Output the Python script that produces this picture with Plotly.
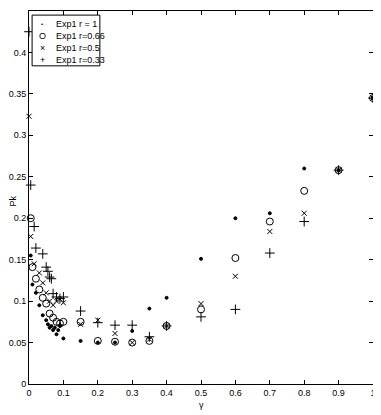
import plotly.graph_objects as go

# gamma values and Pk for each series
x_r1 = [0.005, 0.01, 0.02, 0.03, 0.04, 0.05, 0.055, 0.06, 0.065, 0.07, 0.075, 0.08, 0.085, 0.09,
        0.1, 0.15, 0.2, 0.25, 0.3, 0.35, 0.4, 0.5, 0.6, 0.7, 0.8, 0.9, 1.0]
y_r1 = [0.155, 0.12, 0.11, 0.095, 0.083, 0.077, 0.072, 0.068, 0.07, 0.065, 0.068, 0.06, 0.065, 0.07,
        0.055, 0.052, 0.05, 0.05, 0.064, 0.091, 0.104, 0.151, 0.2, 0.206, 0.26, 0.258, 0.345]

x_r066 = [0.005, 0.01, 0.02, 0.03, 0.04, 0.05, 0.06, 0.07, 0.08, 0.09, 0.1,
          0.15, 0.2, 0.25, 0.3, 0.35, 0.4, 0.5, 0.6, 0.7, 0.8, 0.9, 1.0]
y_r066 = [0.2, 0.141, 0.127, 0.114, 0.104, 0.097, 0.085, 0.08, 0.075, 0.073, 0.075,
          0.075, 0.052, 0.051, 0.05, 0.052, 0.07, 0.09, 0.152, 0.196, 0.233, 0.258, 0.345]

x_r05 = [0.0, 0.005, 0.015, 0.03, 0.04, 0.05, 0.06, 0.07, 0.08, 0.09, 0.1,
         0.15, 0.2, 0.25, 0.3, 0.35, 0.4, 0.5, 0.6, 0.7, 0.8, 0.9, 1.0]
y_r05 = [0.323, 0.178, 0.145, 0.134, 0.122, 0.11, 0.1, 0.095, 0.1, 0.102, 0.098,
         0.072, 0.077, 0.061, 0.05, 0.054, 0.07, 0.097, 0.13, 0.184, 0.206, 0.258, 0.345]

x_r033 = [0.0, 0.005, 0.015, 0.02, 0.04, 0.05, 0.055, 0.06, 0.065, 0.07, 0.08, 0.09, 0.1,
          0.15, 0.2, 0.25, 0.3, 0.35, 0.4, 0.5, 0.6, 0.7, 0.8, 0.9, 1.0]
y_r033 = [0.425, 0.24, 0.19, 0.164, 0.157, 0.141, 0.136, 0.129, 0.127, 0.109, 0.105, 0.103, 0.105,
          0.088, 0.074, 0.071, 0.071, 0.057, 0.07, 0.081, 0.09, 0.158, 0.196, 0.258, 0.345]

labels = ['Exp1 r = 1', 'Exp1 r=0.66', 'Exp1 r=0.5', 'Exp1 r=0.33']
legend_glyphs = ['•', 'O', '×', '+']

series = [
    (labels[0], x_r1, y_r1, 'circle', 3),
    (labels[1], x_r066, y_r066, 'circle-open', 7),
    (labels[2], x_r05, y_r05, 'x-thin-open', 5),
    (labels[3], x_r033, y_r033, 'cross-thin-open', 7),
]

fig = go.Figure()
for name, xs, ys, sym, sz in series:
    fig.add_trace(go.Scatter(x=xs, y=ys, mode='markers', name=name, cliponaxis=False,
                             showlegend=False,
                             marker=dict(symbol=sym, size=sz, color='black',
                                         line=dict(color='black', width=1))))

font = 'Liberation Sans, Arial, sans-serif'
axis = dict(showgrid=False, zeroline=False, showline=True, linecolor='black', linewidth=1,
            mirror='ticks', ticks='inside', ticklen=4, tickcolor='black', automargin=False,
            tickfont=dict(size=9, color='black', family=font))

# hand-made compact legend (matlab style)
annos = []
row_y = [0.965, 0.933, 0.901, 0.869]
for glyph, lab, yy in zip(legend_glyphs, labels, row_y):
    annos.append(dict(text=glyph, xref='paper', yref='paper', x=0.038, y=yy,
                      xanchor='center', yanchor='middle', showarrow=False,
                      font=dict(size=6 if glyph == '•' else 9)))
    annos.append(dict(text=lab, xref='paper', yref='paper', x=0.072, y=yy,
                      xanchor='left', yanchor='middle', showarrow=False, font=dict(size=9)))

annos += [
    dict(text='γ', xref='paper', yref='paper', x=0.5, y=-0.056, xanchor='center',
         yanchor='middle', showarrow=False, font=dict(size=9)),
    dict(text='Pk', xref='paper', yref='paper', x=-0.046, y=0.49, xanchor='center',
         yanchor='middle', showarrow=False, textangle=-90, font=dict(size=9)),
]

fig.update_layout(
    width=373, height=407,
    margin=dict(l=21, r=8, t=3, b=31),
    plot_bgcolor='white', paper_bgcolor='white',
    font=dict(family=font, color='black'),
    showlegend=False,
    xaxis=dict(axis, range=[0, 1], dtick=0.1, tick0=0),
    yaxis=dict(axis, range=[0, 0.45], dtick=0.05, tick0=0),
    annotations=annos,
    shapes=[dict(type='rect', xref='paper', yref='paper', x0=0.009, x1=0.206,
                 y0=0.853, y1=0.989, line=dict(color='black', width=1),
                 fillcolor='white', layer='above')],
)

fig.write_html("out.html")
